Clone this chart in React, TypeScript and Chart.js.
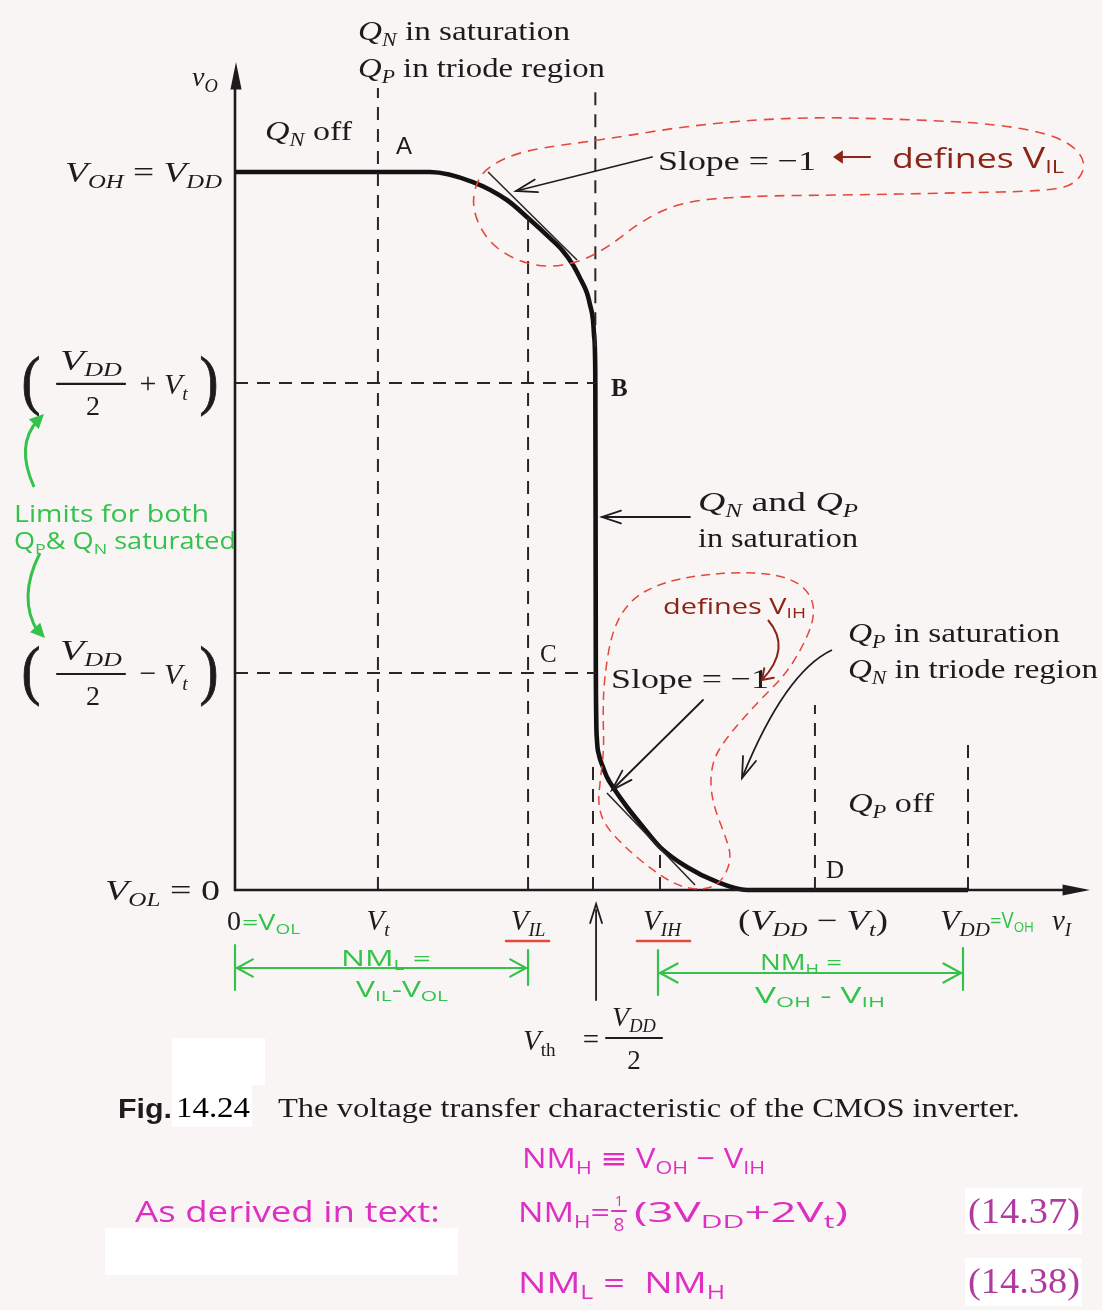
import React, { useEffect, useRef } from "react";
import { Chart, registerables } from "chart.js";

Chart.register(...registerables);

// Transfer curve of the CMOS inverter (input vI, output vO), VDD = 5 V, Vt = 1 V
const vIn = [0, 1.33, 1.623, 1.855, 1.999, 2.149, 2.231, 2.306, 2.353, 2.401, 2.422, 2.442, 2.449, 2.4557, 2.458, 2.4595, 2.461, 2.4638, 2.469, 2.483, 2.51, 2.537, 2.578, 2.674, 2.783, 2.899, 3.083, 3.288, 3.493, 5];
const vOut = [5, 5, 4.93, 4.805, 4.68, 4.54, 4.457, 4.352, 4.262, 4.157, 4.074, 3.969, 3.865, 3.726, 3.482, 2.716, 1.671, 1.219, 1.045, 0.94, 0.857, 0.787, 0.717, 0.578, 0.439, 0.299, 0.16, 0.056, 0, 0];

// Slope = -1 tangents that define VIL and VIH
const tanILx = [1.726, 2.333];
const tanILy = [5.0, 4.387];
const tanIHx = [2.537, 3.138];
const tanIHy = [0.675, 0.035];

// Vertical dashed guides: x position, lower end, upper end
const dropX = [0.975, 1.999, 2.458, 2.442, 2.899, 3.956, 5];
const dropLo = [0, 0, 3.78, 0, 0, 0, 0];
const dropHi = [5.585, 4.68, 5.585, 0.92, 0.299, 1.288, 1.01];

// Horizontal dashed guides at VDD/2 + Vt and VDD/2 - Vt
const levelY = [3.531, 1.511];
const levelEnd = [2.458, 2.46];

// Positions of the axis labels
const xTickPos = [0, 0.975, 1.999, 2.463, 2.899, 3.956, 5];
const yTickPos = [0, 1.511, 3.531, 5];

const SERIF = '"Liberation Serif", "Times New Roman", serif';
const SANS = '"Liberation Sans", Arial, sans-serif';
const HAND = '"Open Sans", "DejaVu Sans", sans-serif';
const INK = "#1e1b1c";
const RED = "#e2483c";
const BROWN = "#8c2518";
const GREEN = "#33c24b";
const MAGENTA = "#dd2fc2";
const PURPLE = "#b2399e";
const PAPER = "#faf5f5";

type Seg = { t: string; i?: boolean; b?: boolean; sub?: boolean; sc?: number; c?: string; f?: string };
type RichOpts = { align?: "left" | "center" | "right"; color?: string; fam?: string; w?: number };

function rich(ctx: CanvasRenderingContext2D, segs: Seg[], x: number, y: number, size: number, o: RichOpts = {}) {
  const fam = o.fam ?? SERIF;
  const parts = segs.map((s) => {
    const fs = size * (s.sc ?? (s.sub ? 0.66 : 1));
    const font = `${s.i ? "italic " : ""}${s.b ? "bold " : ""}${fs}px ${s.f ?? fam}`;
    ctx.font = font;
    return { s, font, w: ctx.measureText(s.t).width, dy: s.sub ? size * 0.2 : 0 };
  });
  const natural = parts.reduce((a, p) => a + p.w, 0);
  const total = o.w ?? natural;
  const k = total / natural;
  const align = o.align ?? "left";
  const x0 = align === "left" ? x : align === "center" ? x - total / 2 : x - total;
  ctx.save();
  ctx.translate(x0, y);
  ctx.scale(k, 1);
  ctx.textBaseline = "alphabetic";
  ctx.textAlign = "left";
  let cx = 0;
  for (const p of parts) {
    ctx.font = p.font;
    ctx.fillStyle = p.s.c ?? o.color ?? INK;
    ctx.fillText(p.s.t, cx, p.dy);
    cx += p.w;
  }
  ctx.restore();
  return total;
}

function stroke(ctx: CanvasRenderingContext2D, pts: number[][], color: string, w: number, dash: number[] = []) {
  ctx.save();
  ctx.strokeStyle = color;
  ctx.lineWidth = w;
  ctx.setLineDash(dash);
  ctx.lineCap = "round";
  ctx.beginPath();
  pts.forEach((p, i) => (i ? ctx.lineTo(p[0], p[1]) : ctx.moveTo(p[0], p[1])));
  ctx.stroke();
  ctx.restore();
}

function head(ctx: CanvasRenderingContext2D, tx: number, ty: number, fx: number, fy: number, len: number, spread: number, color: string, w: number, filled = false) {
  const a = Math.atan2(ty - fy, tx - fx);
  const p1 = [tx - len * Math.cos(a - spread), ty - len * Math.sin(a - spread)];
  const p2 = [tx - len * Math.cos(a + spread), ty - len * Math.sin(a + spread)];
  ctx.save();
  if (filled) {
    ctx.fillStyle = color;
    ctx.beginPath();
    ctx.moveTo(tx, ty);
    ctx.lineTo(p1[0], p1[1]);
    ctx.lineTo(p2[0], p2[1]);
    ctx.closePath();
    ctx.fill();
  } else {
    stroke(ctx, [p1, [tx, ty], p2], color, w);
  }
  ctx.restore();
}

function smooth(ctx: CanvasRenderingContext2D, pts: number[][], color: string, w: number, dash: number[], closed: boolean) {
  ctx.save();
  ctx.strokeStyle = color;
  ctx.lineWidth = w;
  ctx.setLineDash(dash);
  ctx.beginPath();
  const n = pts.length;
  const mid = (a: number[], b: number[]) => [(a[0] + b[0]) / 2, (a[1] + b[1]) / 2];
  if (closed) {
    const m0 = mid(pts[n - 1], pts[0]);
    ctx.moveTo(m0[0], m0[1]);
    for (let i = 0; i < n; i++) {
      const m = mid(pts[i], pts[(i + 1) % n]);
      ctx.quadraticCurveTo(pts[i][0], pts[i][1], m[0], m[1]);
    }
  } else {
    ctx.moveTo(pts[0][0], pts[0][1]);
    for (let i = 1; i < n - 1; i++) {
      const m = mid(pts[i], pts[i + 1]);
      ctx.quadraticCurveTo(pts[i][0], pts[i][1], m[0], m[1]);
    }
    ctx.lineTo(pts[n - 1][0], pts[n - 1][1]);
  }
  ctx.stroke();
  ctx.restore();
}

function paren(ctx: CanvasRenderingContext2D, ch: string, x: number, y: number) {
  ctx.save();
  ctx.font = `60px ${SERIF}`;
  ctx.fillStyle = INK;
  ctx.strokeStyle = INK;
  ctx.lineWidth = 0.8;
  ctx.textBaseline = "middle";
  ctx.textAlign = "center";
  ctx.translate(x, y);
  ctx.scale(0.95, 1.1);
  ctx.fillText(ch, 0, 0);
  ctx.strokeText(ch, 0, 0);
  ctx.restore();
}

function fracLabel(ctx: CanvasRenderingContext2D, y: number, sign: string) {
  paren(ctx, "(", 31, y + 2);
  rich(ctx, [{ t: "V", i: true }, { t: "DD", i: true, sub: true }], 91, y - 13, 29, { align: "center", w: 62 });
  stroke(ctx, [[57, y + 1], [125, y + 1]], INK, 2.2);
  rich(ctx, [{ t: "2" }], 93, y + 32, 28, { align: "center" });
  rich(ctx, [{ t: sign }], 148, y + 10, 30, { align: "center" });
  rich(ctx, [{ t: "V", i: true }, { t: "t", i: true, sub: true }], 164, y + 11, 30);
  paren(ctx, ")", 209, y + 2);
}

const drawing = {
  id: "vtcAnnotations",
  beforeDraw(chart: any) {
    const ctx = chart.ctx as CanvasRenderingContext2D;
    ctx.save();
    ctx.fillStyle = PAPER;
    ctx.fillRect(0, 0, chart.width, chart.height);
    ctx.restore();
  },
  afterDatasetsDraw(chart: any) {
    const ctx = chart.ctx as CanvasRenderingContext2D;
    const xs = chart.scales.x;
    const ys = chart.scales.y;
    const X = (v: number) => xs.getPixelForValue(v);
    const Y = (v: number) => ys.getPixelForValue(v);
    const x0 = X(0);
    const y0 = Y(0);

    // axes with arrowheads
    stroke(ctx, [[x0, y0], [x0, 80]], INK, 2.6);
    head(ctx, x0 + 1, 62, x0 + 1, 100, 28, 0.2, INK, 2, true);
    stroke(ctx, [[x0, y0], [1070, y0]], INK, 2.6);
    head(ctx, 1090, y0, 1040, y0, 28, 0.2, INK, 2, true);

    // printed labels
    rich(ctx, [{ t: "Q", i: true }, { t: "N", i: true, sub: true }, { t: " in saturation" }], 358, 40, 28, { w: 212 });
    rich(ctx, [{ t: "Q", i: true }, { t: "P", i: true, sub: true }, { t: " in triode region" }], 358, 77, 28, { w: 247 });
    rich(ctx, [{ t: "v", i: true }, { t: "O", i: true, sub: true }], 192, 86, 28);
    rich(ctx, [{ t: "Q", i: true }, { t: "N", i: true, sub: true }, { t: " off" }], 265, 140, 28, { w: 87 });
    rich(ctx, [{ t: "A" }], 396, 154, 24, { fam: SANS });
    rich(ctx, [{ t: "V", i: true }, { t: "OH", i: true, sub: true }, { t: " = " }, { t: "V", i: true }, { t: "DD", i: true, sub: true }], 222, Y(yTickPos[3]) + 10, 29, { align: "right", w: 157 });
    fracLabel(ctx, Y(yTickPos[2]), "+");
    fracLabel(ctx, Y(yTickPos[1]), "\u2212");
    rich(ctx, [{ t: "V", i: true }, { t: "OL", i: true, sub: true }, { t: " = 0" }], 220, Y(yTickPos[0]) + 10, 29, { align: "right", w: 115 });

    rich(ctx, [{ t: "Slope = \u22121" }], 658, 170, 28, { w: 158 });
    rich(ctx, [{ t: "B", b: true }], 611, 396, 25);
    rich(ctx, [{ t: "Q", i: true }, { t: "N", i: true, sub: true }, { t: " and " }, { t: "Q", i: true }, { t: "P", i: true, sub: true }], 698, 511, 28, { w: 160 });
    rich(ctx, [{ t: "in saturation" }], 698, 547, 28, { w: 160 });
    rich(ctx, [{ t: "C" }], 540, 662, 25);
    rich(ctx, [{ t: "Slope = \u22121" }], 611, 688, 28, { w: 158 });
    rich(ctx, [{ t: "Q", i: true }, { t: "P", i: true, sub: true }, { t: " in saturation" }], 848, 642, 28, { w: 212 });
    rich(ctx, [{ t: "Q", i: true }, { t: "N", i: true, sub: true }, { t: " in triode region" }], 848, 678, 28, { w: 250 });
    rich(ctx, [{ t: "Q", i: true }, { t: "P", i: true, sub: true }, { t: " off" }], 848, 812, 28, { w: 86 });
    rich(ctx, [{ t: "D" }], 826, 878, 25);

    // pointer arrows
    stroke(ctx, [[652, 157], [516, 191]], INK, 1.8);
    head(ctx, 516, 191, 652, 157, 22, 0.3, INK, 1.8);
    stroke(ctx, [[690, 517], [602, 517]], INK, 1.8);
    head(ctx, 602, 517, 690, 517, 20, 0.32, INK, 1.8);
    stroke(ctx, [[703, 700], [612, 790]], INK, 1.8);
    head(ctx, 612, 790, 703, 700, 22, 0.3, INK, 1.8);
    ctx.save();
    ctx.strokeStyle = INK;
    ctx.lineWidth = 1.8;
    ctx.beginPath();
    ctx.moveTo(832, 650);
    ctx.quadraticCurveTo(785, 672, 742, 778);
    ctx.stroke();
    ctx.restore();
    head(ctx, 742, 778, 752, 752, 22, 0.32, INK, 1.8);

    // x-axis labels
    const tb = y0 + 40;
    rich(ctx, [{ t: "0" }], X(xTickPos[0]) - 8, tb, 28);
    rich(ctx, [{ t: "=V" }, { t: "OL", sub: true }], X(xTickPos[0]) + 7, tb, 22, { fam: HAND, color: GREEN, w: 58 });
    rich(ctx, [{ t: "V", i: true }, { t: "t", i: true, sub: true }], X(xTickPos[1]), tb, 29, { align: "center" });
    rich(ctx, [{ t: "V", i: true }, { t: "IL", i: true, sub: true }], X(xTickPos[2]), tb, 29, { align: "center" });
    stroke(ctx, [[X(xTickPos[2]) - 22, tb + 11], [X(xTickPos[2]) + 21, tb + 11]], RED, 2.6);
    rich(ctx, [{ t: "V", i: true }, { t: "IH", i: true, sub: true }], X(xTickPos[4]) + 2, tb, 29, { align: "center" });
    stroke(ctx, [[X(xTickPos[4]) - 23, tb + 11], [X(xTickPos[4]) + 30, tb + 11]], RED, 2.6);
    rich(ctx, [{ t: "(" }, { t: "V", i: true }, { t: "DD", i: true, sub: true }, { t: " \u2212 " }, { t: "V", i: true }, { t: "t", i: true, sub: true }, { t: ")" }], X(xTickPos[5]) - 2, tb, 29, { align: "center", w: 150 });
    rich(ctx, [{ t: "V", i: true }, { t: "DD", i: true, sub: true }], X(xTickPos[6]) - 28, tb, 29, { w: 50 });
    rich(ctx, [{ t: "=" }, { t: "V" }, { t: "OH", sub: true }], X(xTickPos[6]) + 22, tb - 2, 21, { fam: HAND, color: GREEN, w: 44 });
    rich(ctx, [{ t: "v", i: true }, { t: "I", i: true, sub: true }], 1052, tb, 29);

    // Vth arrow and label
    const xth = X(xTickPos[3]);
    stroke(ctx, [[xth, 1000], [xth, 910]], INK, 1.8);
    head(ctx, xth, 904, xth, 1000, 20, 0.3, INK, 1.8);
    rich(ctx, [{ t: "V", i: true }, { t: "th", sub: true }], 523, 1050, 29);
    rich(ctx, [{ t: "=" }], 591, 1049, 29, { align: "center" });
    rich(ctx, [{ t: "V", i: true }, { t: "DD", i: true, sub: true }], 634, 1026, 28, { align: "center" });
    stroke(ctx, [[606, 1038], [662, 1038]], INK, 2);
    rich(ctx, [{ t: "2" }], 634, 1069, 27, { align: "center" });

    // red hand-drawn loops
    smooth(ctx, [[490, 165], [525, 150], [600, 140], [700, 124], [800, 117], [900, 119], [1000, 124], [1062, 137], [1087, 160], [1078, 183], [1050, 191], [950, 193], [850, 195], [745, 196], [680, 202], [640, 222], [610, 246], [580, 262], [545, 268], [510, 258], [485, 238], [472, 208], [476, 182]], RED, 1.6, [10, 7], true);
    smooth(ctx, [[612, 630], [630, 600], [660, 583], [705, 574], [760, 572], [796, 580], [813, 598], [814, 620], [802, 648], [785, 675], [760, 700], [740, 722], [725, 740], [713, 760], [710, 785], [715, 810], [725, 835], [732, 858], [722, 882], [705, 890], [680, 887], [655, 872], [628, 850], [605, 826], [598, 805], [600, 782], [604, 750], [603, 715], [604, 680]], RED, 1.5, [9, 6], true);

    // brown handwriting
    stroke(ctx, [[870, 157], [840, 157]], BROWN, 2.2);
    head(ctx, 833, 157, 870, 157, 12, 0.6, BROWN, 2, true);
    rich(ctx, [{ t: "defines " }, { t: "V", sc: 1.05 }, { t: "IL", sub: true }], 892, 168, 27, { fam: HAND, color: BROWN, w: 172 });
    rich(ctx, [{ t: "defines " }, { t: "V" }, { t: "IH", sub: true }], 663, 614, 22, { fam: HAND, color: BROWN, w: 143 });
    ctx.save();
    ctx.strokeStyle = BROWN;
    ctx.lineWidth = 2;
    ctx.beginPath();
    ctx.moveTo(768, 620);
    ctx.quadraticCurveTo(792, 648, 762, 680);
    ctx.stroke();
    ctx.restore();
    head(ctx, 762, 680, 778, 664, 12, 0.6, BROWN, 2);

    // green notes
    rich(ctx, [{ t: "Limits for both" }], 14, 522, 23, { fam: HAND, color: GREEN, w: 195 });
    rich(ctx, [{ t: "Q" }, { t: "P", sub: true }, { t: "& Q" }, { t: "N", sub: true }, { t: " saturated" }], 14, 549, 23, { fam: HAND, color: GREEN, w: 222 });
    ctx.save();
    ctx.strokeStyle = GREEN;
    ctx.lineWidth = 3;
    ctx.beginPath();
    ctx.moveTo(34, 487);
    ctx.quadraticCurveTo(15, 445, 38, 420);
    ctx.moveTo(40, 553);
    ctx.quadraticCurveTo(17, 598, 38, 632);
    ctx.stroke();
    ctx.restore();
    head(ctx, 44, 414, 30, 428, 16, 0.45, GREEN, 2, true);
    head(ctx, 45, 638, 30, 622, 16, 0.45, GREEN, 2, true);

    // noise-margin spans
    stroke(ctx, [[x0, 945], [x0, 990]], GREEN, 2.2);
    stroke(ctx, [[X(xTickPos[2]), 950], [X(xTickPos[2]), 985]], GREEN, 2.2);
    stroke(ctx, [[x0 + 2, 968], [X(xTickPos[2]) - 2, 968]], GREEN, 2.2);
    head(ctx, x0 + 2, 968, x0 + 40, 968, 18, 0.5, GREEN, 2.2);
    head(ctx, X(xTickPos[2]) - 2, 968, X(xTickPos[2]) - 40, 968, 18, 0.5, GREEN, 2.2);
    rich(ctx, [{ t: "NM" }, { t: "L", sub: true }, { t: " =" }], 341, 966, 22, { fam: HAND, color: GREEN, w: 90 });
    rich(ctx, [{ t: "V" }, { t: "IL", sub: true }, { t: "-V" }, { t: "OL", sub: true }], 356, 997, 21, { fam: HAND, color: GREEN, w: 92 });
    stroke(ctx, [[658, 950], [658, 995]], GREEN, 2.2);
    stroke(ctx, [[963, 948], [963, 990]], GREEN, 2.2);
    stroke(ctx, [[660, 973], [961, 973]], GREEN, 2.2);
    head(ctx, 660, 973, 700, 973, 20, 0.5, GREEN, 2.2);
    head(ctx, 961, 973, 921, 973, 20, 0.5, GREEN, 2.2);
    rich(ctx, [{ t: "NM" }, { t: "H", sub: true }, { t: " =" }], 760, 970, 22, { fam: HAND, color: GREEN, w: 82 });
    rich(ctx, [{ t: "V" }, { t: "OH", sub: true }, { t: " - " }, { t: "V" }, { t: "IH", sub: true }], 755, 1003, 21, { fam: HAND, color: GREEN, w: 130 });

    // caption
    ctx.save();
    ctx.fillStyle = "#ffffff";
    ctx.fillRect(172, 1038, 93, 47);
    ctx.fillRect(172, 1085, 80, 42);
    ctx.fillRect(105, 1228, 353, 47);
    ctx.fillRect(965, 1188, 117, 46);
    ctx.fillRect(965, 1258, 117, 48);
    ctx.restore();
    rich(ctx, [{ t: "Fig.", b: true }], 118, 1118, 28, { fam: SANS, w: 54 });
    rich(ctx, [{ t: "14.24" }], 176, 1117, 30, { w: 74, color: "#000" });
    rich(ctx, [{ t: "The voltage transfer characteristic of the CMOS inverter." }], 278, 1117, 28, { w: 742 });

    // magenta notes
    rich(ctx, [{ t: "NM" }, { t: "H", sub: true }, { t: " \u2261 V" }, { t: "OH", sub: true }, { t: " \u2212 V" }, { t: "IH", sub: true }], 522, 1168, 28, { fam: HAND, color: MAGENTA, w: 243 });
    rich(ctx, [{ t: "As derived in text:" }], 135, 1222, 29, { fam: HAND, color: MAGENTA, w: 305 });
    const w1 = rich(ctx, [{ t: "NM" }, { t: "H", sub: true }, { t: "=" }], 518, 1222, 28, { fam: HAND, color: MAGENTA, w: 92 });
    rich(ctx, [{ t: "1" }], 518 + w1 + 9, 1206, 15, { fam: HAND, color: MAGENTA, align: "center" });
    stroke(ctx, [[518 + w1 + 2, 1211], [518 + w1 + 16, 1211]], MAGENTA, 2);
    rich(ctx, [{ t: "8" }], 518 + w1 + 9, 1231, 19, { fam: HAND, color: MAGENTA, align: "center" });
    rich(ctx, [{ t: "(3V" }, { t: "DD", sub: true }, { t: "+2V" }, { t: "t", sub: true }, { t: ")" }], 518 + w1 + 24, 1222, 28, { fam: HAND, color: MAGENTA, w: 214 });
    rich(ctx, [{ t: "NM" }, { t: "L", sub: true }, { t: " =  NM" }, { t: "H", sub: true }], 518, 1293, 29, { fam: HAND, color: MAGENTA, w: 207 });
    rich(ctx, [{ t: "(14.37)" }], 1080, 1223, 36, { align: "right", color: PURPLE, w: 112 });
    rich(ctx, [{ t: "(14.38)" }], 1080, 1293, 36, { align: "right", color: PURPLE, w: 112 });
  },
};

function pairs(xs: number[], ys: number[]) {
  return xs.map((x, i) => ({ x, y: ys[i] }));
}

export default function App() {
  const ref = useRef<HTMLCanvasElement | null>(null);

  useEffect(() => {
    document.body.style.margin = "0";
    document.body.style.background = PAPER;
    const canvas = ref.current;
    if (!canvas) return;

    const guide = {
      borderColor: "#2a2627",
      borderWidth: 2,
      borderDash: [13, 9],
      pointRadius: 0,
      showLine: true,
      clip: false as const,
      fill: false,
    };
    const drops = dropX.map((x, i) => ({
      ...guide,
      data: [{ x, y: dropLo[i] }, { x, y: dropHi[i] }],
    }));
    const levels = levelY.map((y, i) => ({
      ...guide,
      data: [{ x: 0, y }, { x: levelEnd[i], y }],
    }));

    const chart = new Chart(canvas, {
      type: "scatter",
      data: {
        datasets: [
          ...drops,
          ...levels,
          { data: pairs(tanILx, tanILy), borderColor: "#2a2627", borderWidth: 1.6, pointRadius: 0, showLine: true, clip: false },
          { data: pairs(tanIHx, tanIHy), borderColor: "#2a2627", borderWidth: 1.6, pointRadius: 0, showLine: true, clip: false },
          {
            data: pairs(vIn, vOut),
            borderColor: "#141112",
            borderWidth: 4.6,
            pointRadius: 0,
            showLine: true,
            cubicInterpolationMode: "monotone",
            clip: false,
          },
        ] as any,
      },
      options: {
        animation: false,
        responsive: false,
        devicePixelRatio: 1,
        layout: { padding: { left: 235, right: 134, top: 172, bottom: 420 } },
        plugins: { legend: { display: false }, tooltip: { enabled: false } },
        events: [],
        scales: {
          x: { type: "linear", min: 0, max: 5, display: false },
          y: { type: "linear", min: 0, max: 5, display: false },
        },
      },
      plugins: [drawing],
    });
    return () => chart.destroy();
  }, []);

  return (
    <div style={{ width: 1102, height: 1310 }}>
      <canvas ref={ref} width={1102} height={1310} style={{ display: "block", width: 1102, height: 1310 }} />
    </div>
  );
}
